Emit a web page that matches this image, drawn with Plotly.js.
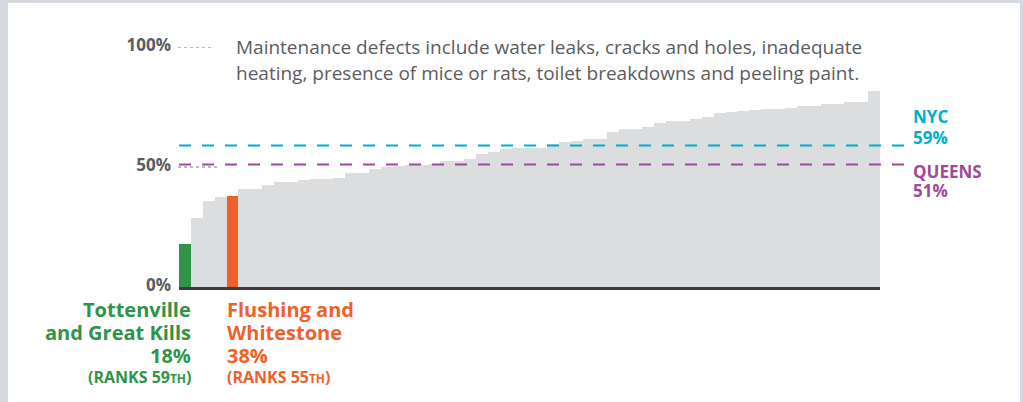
<!DOCTYPE html>
<html>
<head>
<meta charset="utf-8">
<script src="https://cdn.plot.ly/plotly-3.0.1.min.js"></script>
<style>
  html, body { margin: 0; padding: 0; background: #d6d9df; }
  #frame { position: absolute; left: 8px; top: 3px; width: 1012px; height: 399px; background: #ffffff; }
  #chart { position: absolute; left: 0; top: 0; width: 1023px; height: 402px; }
</style>
</head>
<body>
<div id="frame"></div>
<div id="chart"></div>
<script>
// Share of renter households reporting maintenance defects, sorted ascending (59 community districts)
const defectShare = [
  18, 28.6, 35.7, 37.3, 38, 40.7, 40.7, 42.3, 43.6, 43.6,
  44.4, 44.8, 45.2, 45.6, 47.3, 47.3, 49.0, 49.8, 50.3, 50.7,
  50.7, 51.3, 52.7, 52.7, 53.5, 55.6, 56.4, 57.7, 58.1, 58.1,
  58.1, 59.7, 60.5, 61.0, 61.8, 61.8, 64.7, 66.0, 66.0, 66.8,
  68.5, 69.3, 69.3, 70.1, 70.9, 72.5, 73.0, 73.4, 73.8, 74.0,
  74.0, 74.7, 75.5, 75.5, 76.3, 76.3, 77.2, 77.2, 81.7
];
const tickValues = [0, 50, 100];
const tickLabels = ['0%', '50%', '100%'];
const noteLines = [
  'Maintenance defects include water leaks, cracks and holes, inadequate',
  'heating, presence of mice or rats, toilet breakdowns and peeling paint.'
];
const nycValue = 59;
const queensValue = 51;
const greenIndex = 0;
const greenLines = ['Tottenville', 'and Great Kills'];
const greenValue = 18;
const greenRank = '59';
const orangeIndex = 4;
const orangeLines = ['Flushing and', 'Whitestone'];
const orangeValue = 38;
const orangeRank = '55';

const GRAY = '#dcdddf', GREEN = '#2f9447', ORANGE = '#f0602a', CYAN = '#00aecb', PURPLE = '#9c4a9c', TEXT = '#5b5c5e';

const xs = defectShare.map((_, i) => i);
const colors = defectShare.map((_, i) => i === greenIndex ? GREEN : (i === orangeIndex ? ORANGE : GRAY));

const W = 1023, H = 402, L = 179, R = 143, T = 47, B = 115;
const pw = W - L - R, ph = H - T - B;
const px = x => (x - L) / pw;
const py = y => (H - B - y) / ph;

const font = 'Open Sans, sans-serif';
const ann = [];
noteLines.forEach((t, i) => ann.push({
  text: t, xref: 'paper', yref: 'paper', x: px(234), y: py(47 + i * 26),
  xanchor: 'left', yanchor: 'middle', showarrow: false,
  font: { family: font, size: 19, color: TEXT }
}));
function boldAnn(text, x, y, anchor, color, size) {
  ann.push({ text: '<b>' + text + '</b>', xref: 'paper', yref: 'paper', x: px(x), y: py(y),
    xanchor: anchor, yanchor: 'middle', showarrow: false, align: anchor,
    font: { family: font, size: size, color: color } });
}
boldAnn('NYC', 911, 117, 'left', CYAN, 17);
boldAnn(nycValue + '%', 911, 137, 'left', CYAN, 17);
boldAnn('QUEENS', 911, 171, 'left', PURPLE, 17);
boldAnn(queensValue + '%', 911, 190, 'left', PURPLE, 17);

const rankText = r => '(RANKS ' + r + '<span style="font-size:12px">TH</span>)';
greenLines.forEach((t, i) => boldAnn(t, 193, 309 + i * 23, 'right', GREEN, 20));
boldAnn(greenValue + '%', 193, 355, 'right', GREEN, 20);
boldAnn(rankText(greenRank), 193, 377, 'right', GREEN, 16);
orangeLines.forEach((t, i) => boldAnn(t, 225, 309 + i * 23, 'left', ORANGE, 20));
boldAnn(orangeValue + '%', 225, 355, 'left', ORANGE, 20);
boldAnn(rankText(orangeRank), 225, 377, 'left', ORANGE, 16);

const shapes = [
  { type: 'line', xref: 'paper', yref: 'y', x0: 0, x1: px(906), y0: nycValue, y1: nycValue,
    line: { color: CYAN, width: 2, dash: '12px,11px' } },
  { type: 'line', xref: 'paper', yref: 'y', x0: 0, x1: px(906), y0: queensValue, y1: queensValue,
    line: { color: PURPLE, width: 2, dash: '12px,11px' } },
  { type: 'line', xref: 'paper', yref: 'y', x0: px(178), x1: px(211), y0: 100, y1: 100,
    line: { color: '#777', width: 1, dash: 'dot' } },
  { type: 'line', xref: 'paper', yref: 'y', x0: px(178), x1: px(217), y0: 50, y1: 50,
    line: { color: '#777', width: 1, dash: 'dot' } }
];

Plotly.newPlot('chart', [{
  type: 'bar', x: xs, y: defectShare,
  marker: { color: colors, line: { width: 0 } },
  hoverinfo: 'skip'
}], {
  width: W, height: H,
  margin: { l: L, r: R, t: T, b: B, pad: 0 },
  paper_bgcolor: 'rgba(0,0,0,0)', plot_bgcolor: 'rgba(0,0,0,0)',
  bargap: 0, showlegend: false,
  xaxis: { range: [-0.5, defectShare.length - 0.5], showticklabels: false, showgrid: false,
    zeroline: false, ticks: '', showline: true, linecolor: '#3b3b3b', linewidth: 3, fixedrange: true },
  yaxis: { range: [0, 100], tickvals: tickValues, ticktext: tickLabels, showgrid: false,
    zeroline: false, ticks: '', showline: false, ticklabelstandoff: 7, ticklabelshift: -2,
    tickfont: { family: font, size: 17, color: TEXT, weight: 700 }, fixedrange: true },
  annotations: ann,
  shapes: shapes
}, { displayModeBar: false, staticPlot: true });
</script>
</body>
</html>
